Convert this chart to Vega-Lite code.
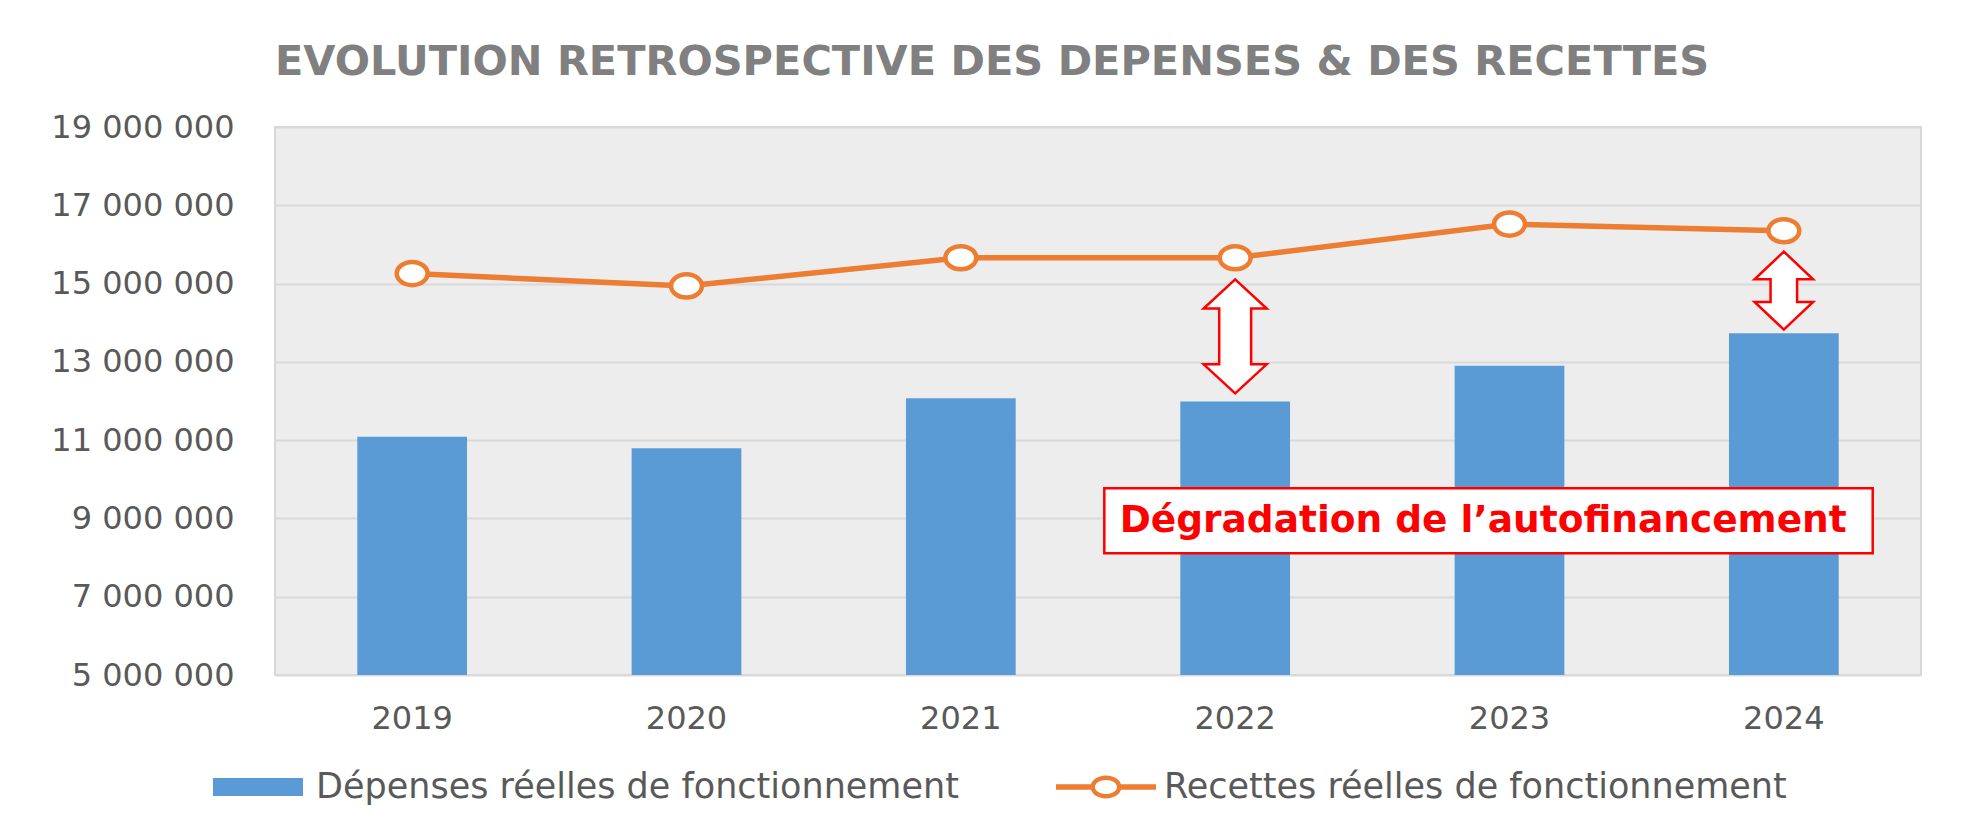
{
  "$schema": "https://vega.github.io/schema/vega-lite/v6.json",
  "width": 1646,
  "height": 548,
  "autosize": {"type": "none"},
  "padding": {"left": 275, "top": 127, "right": 48, "bottom": 159},
  "background": "#FFFFFF",
  "config": {
    "locale": {"number": {"decimal": ",", "thousands": " ", "grouping": [3], "currency": ["", " €"]}},
    "view": {"stroke": "#D9D9D9", "strokeWidth": 2, "fill": "#EDEDED"},
    "axis": {"labelFont": "DejaVu Sans", "labelFontSize": 32, "labelColor": "#595959", "labelLimit": 0, "ticks": false, "domain": false, "title": null}
  },
  "title": {
    "text": "EVOLUTION RETROSPECTIVE DES DEPENSES & DES RECETTES",
    "anchor": "start",
    "frame": "group",
    "baseline": "alphabetic",
    "offset": -5,
    "font": "DejaVu Sans",
    "fontWeight": "bold",
    "fontSize": 41.5,
    "color": "#808080"
  },
  "data": {
    "values": [
      {"year": "2019", "depenses": 11085000, "recettes": 15255000},
      {"year": "2020", "depenses": 10790000, "recettes": 14940000},
      {"year": "2021", "depenses": 12070000, "recettes": 15660000},
      {"year": "2022", "depenses": 11990000, "recettes": 15660000},
      {"year": "2023", "depenses": 12900000, "recettes": 16520000},
      {"year": "2024", "depenses": 13730000, "recettes": 16350000}
    ]
  },
  "encoding": {
    "x": {
      "field": "year",
      "type": "ordinal",
      "scale": {"domain": ["2019", "2020", "2021", "2022", "2023", "2024"], "paddingInner": 0, "paddingOuter": 0},
      "axis": {"labelAngle": 0, "labelPadding": 28, "grid": false}
    }
  },
  "layer": [
    {
      "mark": {"type": "bar", "width": {"band": 0.4}},
      "encoding": {
        "y": {
          "field": "depenses",
          "type": "quantitative",
          "scale": {"domain": [5000000, 19000000], "nice": false, "zero": false},
          "axis": {"values": [5000000, 7000000, 9000000, 11000000, 13000000, 15000000, 17000000, 19000000], "format": ",d", "labelPadding": 41, "grid": true, "gridColor": "#D9D9D9", "gridWidth": 2}
        },
        "y2": {"datum": 5000000},
        "color": {
          "datum": "Dépenses réelles de fonctionnement",
          "type": "nominal",
          "scale": {"domain": ["Dépenses réelles de fonctionnement", "Recettes réelles de fonctionnement"], "range": ["#5B9BD5", "#ED7D31"]},
          "legend": {
            "title": null,
            "orient": "none",
            "legendX": -67,
            "legendY": 610,
            "direction": "horizontal",
            "padding": 0,
            "symbolSize": 10000,
            "symbolStrokeWidth": 0,
            "labelOffset": 8,
            "columnPadding": 97,
            "labelFont": "DejaVu Sans",
            "labelFontSize": 35,
            "labelColor": "#595959",
            "labelLimit": 0,
            "encode": {
              "symbols": {
                "update": {
                  "shape": {"signal": "datum.index === 0 ? 'M-0.9,-0.18H0.9V0.18H-0.9Z' : 'M-1,-0.055H-0.27V0.055H-1Z M0.27,-0.055H1V0.055H0.27Z M-0.31,0A0.31,0.23 0 1 1 0.31,0A0.31,0.23 0 1 1 -0.31,0Z M-0.22,0A0.22,0.14 0 1 0 0.22,0A0.22,0.14 0 1 0 -0.22,0Z'"},
                  "strokeWidth": {"value": 0},
                  "opacity": {"value": 1},
                  "fillOpacity": {"value": 1}
                }
              }
            }
          }
        }
      }
    },
    {
      "mark": {"type": "line", "strokeWidth": 5.5},
      "encoding": {
        "y": {"field": "recettes", "type": "quantitative"},
        "color": {"datum": "Recettes réelles de fonctionnement", "type": "nominal"}
      }
    },
    {
      "mark": {"type": "point", "shape": "M-1,0A1,0.75 0 1 1 1,0A1,0.75 0 1 1 -1,0Z", "size": 950, "filled": true, "fill": "#FFFFFF", "stroke": "#ED7D31", "strokeWidth": 4.5, "opacity": 1},
      "encoding": {
        "y": {"field": "recettes", "type": "quantitative"}
      }
    },
    {
      "data": {"values": [{"year": "2022", "v": 13650000}]},
      "mark": {"type": "point", "shape": "M0,-1L0.553,-0.49L0.28,-0.49L0.28,0.49L0.553,0.49L0,1L-0.553,0.49L-0.28,0.49L-0.28,-0.49L-0.553,-0.49Z", "size": 12996, "filled": true, "fill": "#FFFFFF", "stroke": "#FF0000", "strokeWidth": 2.5, "opacity": 1},
      "encoding": {
        "y": {"field": "v", "type": "quantitative"}
      }
    },
    {
      "data": {"values": [{"year": "2024", "v": 14820000}]},
      "mark": {"type": "point", "shape": "M0,-1L0.75,-0.29L0.34,-0.29L0.34,0.29L0.75,0.29L0,1L-0.75,0.29L-0.34,0.29L-0.34,-0.29L-0.75,-0.29Z", "size": 6084, "filled": true, "fill": "#FFFFFF", "stroke": "#FF0000", "strokeWidth": 2.5, "opacity": 1},
      "encoding": {
        "y": {"field": "v", "type": "quantitative"}
      }
    },
    {
      "data": {"values": [{"x0": "2022", "x1": "2024", "y0": 9770000, "y1": 8110000}]},
      "mark": {"type": "rect", "fill": "#FFFFFF", "stroke": "#FF0000", "strokeWidth": 2.5},
      "encoding": {
        "x": {"field": "x0", "type": "ordinal", "bandPosition": 0.023},
        "x2": {"field": "x1", "bandPosition": 0.824},
        "y": {"field": "y0", "type": "quantitative"},
        "y2": {"field": "y1"}
      }
    },
    {
      "data": {"values": [{"xt": "2023", "yt": 8930000, "label": "Dégradation de l’autofinancement"}]},
      "mark": {"type": "text", "font": "DejaVu Sans", "fontWeight": "bold", "fontSize": 37.5, "color": "#FF0000", "align": "center", "baseline": "middle"},
      "encoding": {
        "x": {"field": "xt", "type": "ordinal", "bandPosition": 0.404},
        "y": {"field": "yt", "type": "quantitative"},
        "text": {"field": "label"}
      }
    }
  ]
}
